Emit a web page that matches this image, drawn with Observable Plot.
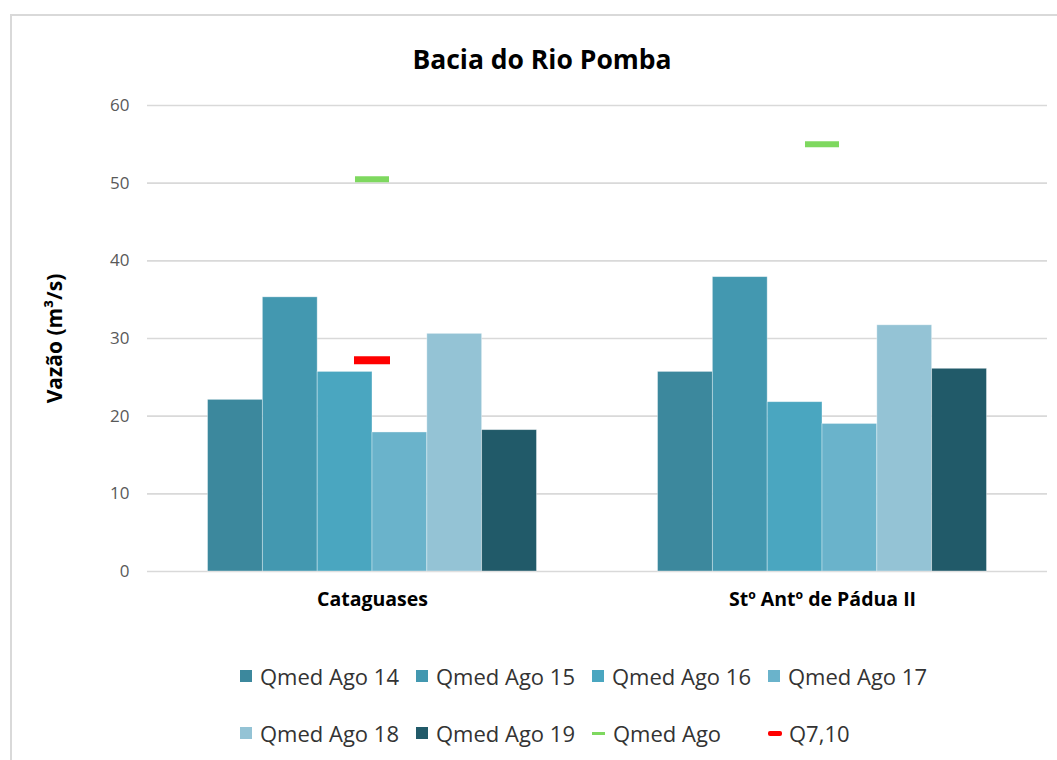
<!DOCTYPE html>
<html><head><meta charset="utf-8">
<script src="https://cdn.jsdelivr.net/npm/d3@7"></script>
<script src="https://cdn.jsdelivr.net/npm/@observablehq/plot@0.6"></script>
<style>
body{margin:0;background:#fff;font-family:"Open Sans",sans-serif;}
#page{position:relative;width:1057px;height:760px;overflow:hidden;background:#fff;}
#frame{position:absolute;left:10px;top:14px;width:1100px;height:800px;border:2px solid #d9d9d9;box-sizing:border-box;}
#title{position:absolute;left:0;width:1084px;top:40px;text-align:center;font-weight:bold;font-size:26.5px;line-height:38px;color:#000;}
#chart{position:absolute;left:0;top:80px;}
#legend{position:absolute;left:240px;top:660px;display:grid;grid-template-columns:176px 176px 176px 176px;grid-auto-rows:57px;font-size:22px;color:#333;}
.item{display:flex;align-items:center;height:32px;white-space:nowrap;}
.sw{display:inline-block;width:12px;height:12px;margin-right:8px;}
.ln{display:inline-block;width:13px;height:3px;margin-right:8px;}
.ln.red{width:14px;height:5px;border-radius:2px;margin-right:7px;}
</style>
</head><body>
<div id="page">
<div id="frame"></div>
<div id="title">Bacia do Rio Pomba</div>
<div id="chart"></div>
<div id="legend"></div>
</div>
<script>
const sites = ["Cataguases", "Stº Antº de Pádua II"];
const series = ["Qmed Ago 14", "Qmed Ago 15", "Qmed Ago 16", "Qmed Ago 17", "Qmed Ago 18", "Qmed Ago 19"];
const ago14 = [22.1, 25.7];
const ago15 = [35.3, 37.9];
const ago16 = [25.7, 21.8];
const ago17 = [17.9, 19.0];
const ago18 = [30.6, 31.7];
const ago19 = [18.2, 26.1];
const qmedAgo = [50.5, 55.0];
const q710 = [27.2, null];
const yTicks = [0, 10, 20, 30, 40, 50, 60];
const colors = ["#3c889d", "#4398b0", "#4aa6c0", "#6ab3cb", "#94c3d5", "#215a69"];
const lineNames = ["Qmed Ago", "Q7,10"];
const lineColors = ["#7ed85f", "#ff0000"];

// layout of a category band (in category units: one unit per site)
const groupWidth = 0.731;            // share of a site's band filled by its bars
const barWidth = groupWidth / series.length;
const markerHalf = [0.0378, 0.04];   // half-width of the Qmed Ago / Q7,10 markers

const seriesValues = [ago14, ago15, ago16, ago17, ago18, ago19];
const rows = [];
sites.forEach((s, i) => series.forEach((name, j) => {
  const x1 = i - groupWidth / 2 + j * barWidth;
  rows.push({site: s, gi: i, series: name, x1, x2: x1 + barWidth, value: seriesValues[j][i]});
}));
const markerRows = (vals, k) => sites.map((s, i) => ({site: s, x1: i - markerHalf[k], x2: i + markerHalf[k], value: vals[i]})).filter(d => d.value != null);

const chart = Plot.plot({
  width: 1057, height: 540,
  marginTop: 25, marginBottom: 49, marginLeft: 147, marginRight: 10,
  style: {fontFamily: "Open Sans, sans-serif", background: "transparent", overflow: "visible"},
  x: {type: "linear", domain: [-0.5, sites.length - 0.5]},
  y: {domain: [0, 60]},
  color: {domain: series, range: colors},
  marks: [
    Plot.gridY(yTicks, {stroke: "#d9d9d9", strokeOpacity: 1, strokeWidth: 1.6}),
    Plot.rectY(rows, {x1: "x1", x2: "x2", y: "value", fill: "series", stroke: "#ffffff", strokeOpacity: 0.45, strokeWidth: 0.8}),
    Plot.ruleY(markerRows(qmedAgo, 0), {x1: "x1", x2: "x2", y: "value", stroke: lineColors[0], strokeWidth: 6}),
    Plot.ruleY(markerRows(q710, 1), {x1: "x1", x2: "x2", y: "value", stroke: lineColors[1], strokeWidth: 8}),
    Plot.axisY(yTicks, {tickSize: 0, tickPadding: 18, fontSize: 17, fill: "#595959", label: null}),
    Plot.axisY({ticks: [], label: "Vazão (m³/s)", labelAnchor: "center", labelArrow: "none", labelOffset: 100, fontSize: 21, fontWeight: "bold", fill: "#000"}),
    Plot.axisX(sites.map((s, i) => i), {tickFormat: i => sites[i], tickSize: 0, tickPadding: 21, fontSize: 19.5, fontWeight: "bold", fill: "#000", label: null})
  ]
});
document.getElementById("chart").appendChild(chart);

const legend = document.getElementById("legend");
series.forEach((name, j) => {
  const it = document.createElement("div");
  it.className = "item";
  it.innerHTML = `<span class="sw" style="background:${colors[j]}"></span><span>${name}</span>`;
  legend.appendChild(it);
});
lineNames.forEach((name, j) => {
  const it = document.createElement("div");
  it.className = "item";
  it.innerHTML = `<span class="ln${j === 1 ? " red" : ""}" style="background:${lineColors[j]}"></span><span>${name}</span>`;
  legend.appendChild(it);
});
</script>
</body></html>
